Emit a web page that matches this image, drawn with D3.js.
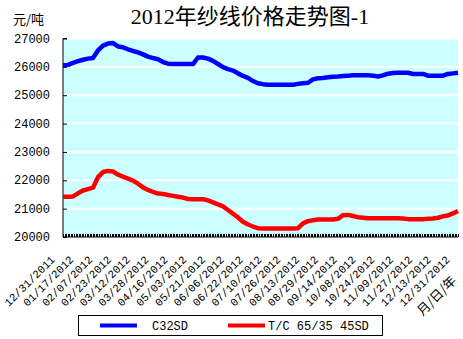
<!DOCTYPE html>
<html><head><meta charset="utf-8">
<script src="https://cdn.jsdelivr.net/npm/d3@7"></script>
<style>html,body{margin:0;padding:0;background:#fff;}svg{display:block;}</style>
</head><body>
<script>
const title = "2012年纱线价格走势图-1";
const yUnit = "元/吨";
const xUnit = "月/日/年";
const dateLabels = ["12/31/2011","01/17/2012","02/07/2012","02/23/2012","03/12/2012","03/28/2012","04/16/2012","05/03/2012","05/21/2012","06/06/2012","06/22/2012","07/10/2012","07/26/2012","08/13/2012","08/29/2012","09/14/2012","10/08/2012","10/24/2012","11/09/2012","11/27/2012","12/13/2012","12/31/2012"];
const yTicks = [20000,21000,22000,23000,24000,25000,26000,27000];
const seriesNames = ["C32SD","T/C 65/35 45SD"];
const c32sd = [26050,26070,26140,26200,26250,26290,26310,26580,26750,26820,26840,26720,26690,26620,26560,26510,26440,26360,26310,26270,26170,26110,26100,26100,26100,26100,26100,26330,26330,26290,26210,26100,25990,25920,25870,25770,25680,25610,25500,25420,25390,25370,25370,25370,25370,25370,25370,25400,25420,25440,25560,25600,25610,25630,25650,25660,25680,25690,25700,25700,25700,25700,25690,25660,25700,25760,25780,25790,25790,25790,25750,25750,25750,25690,25690,25690,25690,25750,25770,25790];
const tc4535 = [21420,21420,21430,21540,21640,21690,21740,22110,22290,22330,22310,22200,22130,22060,21990,21880,21750,21660,21590,21530,21520,21480,21450,21420,21390,21340,21330,21330,21330,21290,21220,21150,21080,20950,20820,20690,20540,20440,20370,20310,20300,20300,20300,20300,20300,20300,20300,20310,20480,20560,20590,20620,20620,20620,20620,20640,20770,20780,20740,20700,20680,20660,20660,20660,20660,20660,20660,20660,20650,20630,20630,20630,20630,20640,20650,20680,20730,20760,20830,20920];
const tradingDays = 253;

const W = 463, H = 339;
const L = 63, R = 458, T = 38.5, B = 237;
const svg = d3.select("body").append("svg").attr("width", W).attr("height", H);

const y = d3.scaleLinear().domain([20000, 27000]).range([B, T]);
const xs = d3.scaleLinear().domain([0, c32sd.length - 1]).range([L, R]);
const xc = d3.scalePoint().domain(dateLabels).range([L, R]);
const xd = d3.scaleLinear().domain([0, tradingDays - 1]).range([L, R]);

svg.append("rect").attr("x", L).attr("y", T).attr("width", R - L).attr("height", B - T).attr("fill", "#CCFFFF");

svg.append("g").selectAll("line").data(yTicks.filter(v => v > 20000)).join("line")
  .attr("x1", L).attr("x2", R).attr("y1", d => y(d)).attr("y2", d => y(d))
  .attr("stroke", "#fff").attr("stroke-width", 2);

// y axis
const ya = svg.append("g").attr("transform", `translate(${L},0)`)
  .call(d3.axisRight(y).tickValues(yTicks).tickSize(4).tickFormat(""));
ya.select(".domain").attr("stroke", "#000").attr("d", `M4,${T}H0V${B}`);
ya.selectAll("line").attr("stroke", "#000");

svg.append("g").selectAll("text").data(yTicks).join("text")
  .attr("x", 50).attr("y", d => y(d)).attr("dy", "0.35em").attr("text-anchor", "end")
  .attr("font-family", "Liberation Mono, monospace").attr("font-size", 12).attr("fill", "#000")
  .text(d => d);

// x axis with dense category ticks
const xa = svg.append("g").attr("transform", `translate(0,${B})`)
  .call(d3.axisTop(xd).tickValues(d3.range(tradingDays)).tickSize(3).tickFormat(""));
xa.select(".domain").attr("stroke", "#000").attr("d", `M${L},0H${R}`);
xa.selectAll("line").attr("stroke", "#000").attr("shape-rendering", "crispEdges");

svg.append("g").selectAll("text").data(dateLabels).join("text")
  .attr("transform", d => `translate(${xc(d) - 33},281.5) rotate(-45)`)
  .attr("text-anchor", "middle").attr("dominant-baseline", "central")
  .attr("font-family", "Liberation Mono, monospace").attr("font-size", 11).attr("fill", "#000")
  .text(d => d);

svg.append("text").attr("transform", "translate(436,295) rotate(-45)")
  .attr("text-anchor", "middle").attr("dominant-baseline", "central")
  .attr("font-family", "Noto Sans CJK SC").attr("font-size", 13).attr("fill", "#000").text(xUnit);

// lines
const line = d3.line().x((d, i) => xs(i)).y(d => y(d));
svg.append("path").datum(c32sd).attr("d", line).attr("fill", "none").attr("stroke", "#0000FF").attr("stroke-width", 4.5).attr("stroke-linejoin", "round");
svg.append("path").datum(tc4535).attr("d", line).attr("fill", "none").attr("stroke", "#FF0000").attr("stroke-width", 4.5).attr("stroke-linejoin", "round");

// title & unit
svg.append("text").attr("x", 250).attr("y", 24).attr("text-anchor", "middle")
  .attr("font-family", "Liberation Serif, Noto Sans CJK SC").attr("font-size", 22).attr("fill", "#000").text(title);
svg.append("text").attr("x", 13).attr("y", 24)
  .attr("font-family", "Noto Sans CJK SC").attr("font-size", 13).attr("fill", "#000").text(yUnit);

// legend
const lg = svg.append("g");
lg.append("rect").attr("x", 78.5).attr("y", 315.5).attr("width", 304).attr("height", 20).attr("fill", "#fff").attr("stroke", "#000").attr("stroke-width", 1);
const colors = ["#0000FF", "#FF0000"];
const lx = [100, 228];
seriesNames.forEach((n, i) => {
  lg.append("line").attr("x1", lx[i]).attr("x2", lx[i] + 37).attr("y1", 325.5).attr("y2", 325.5).attr("stroke", colors[i]).attr("stroke-width", 4);
  lg.append("text").attr("x", lx[i] + 52 - (i ? 12 : 0)).attr("y", 325.5).attr("dy", "0.35em")
    .attr("font-family", "Liberation Mono, monospace").attr("font-size", 12).attr("fill", "#000").text(n);
});
</script>
</body></html>
